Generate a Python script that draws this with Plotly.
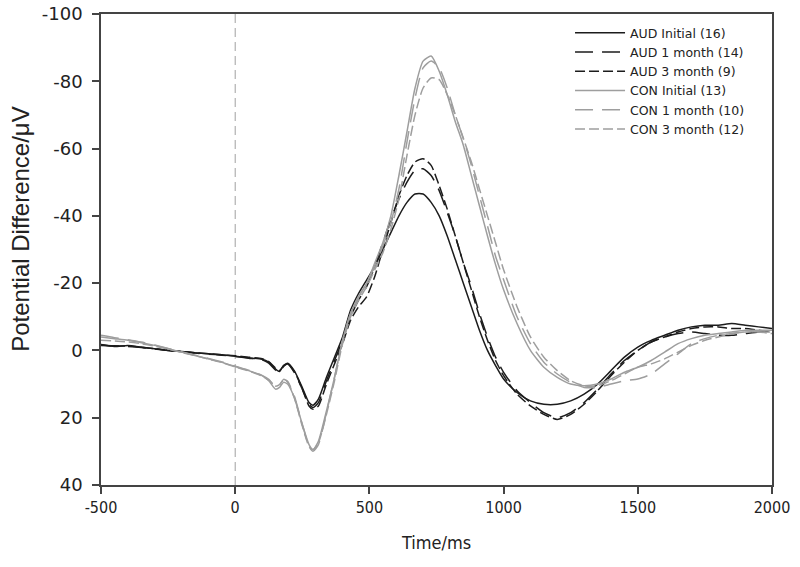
import plotly.graph_objects as go

# time axis (ms)
time_ms = [-500,-450,-400,-350,-300,-250,-200,-150,-100,-50,0,50,100,125,150,165,180,195,220,250,275,290,310,340,370,400,430,460,490,520,550,580,610,640,670,700,730,760,790,820,850,880,910,940,970,1000,1050,1100,1150,1200,1250,1300,1350,1400,1450,1500,1550,1600,1650,1700,1750,1800,1850,1900,1950,2000]

aud_initial = [-1.8,-1.2,-1.5,-1.0,-0.5,0.0,0.3,0.7,1.0,1.3,1.7,2.2,2.6,3.5,5.5,6.3,4.5,3.8,6.0,11.0,15.5,16.3,14.5,8.0,2.0,-4.0,-12.0,-17.0,-21.0,-25.0,-30.0,-35.0,-40.0,-44.0,-46.5,-46.5,-44.0,-40.0,-34.0,-27.0,-20.0,-13.0,-6.0,0.0,4.5,8.5,12.5,15.0,16.0,16.0,15.0,13.0,10.0,6.0,2.0,-1.0,-3.0,-4.5,-6.0,-7.0,-7.5,-7.5,-8.0,-7.5,-7.0,-6.5]
aud_1month = [-1.5,-1.4,-1.2,-0.9,-0.4,0.0,0.4,0.8,1.1,1.4,1.8,2.3,2.8,3.8,5.8,6.5,4.8,4.0,6.5,11.5,16.0,17.0,15.5,9.0,3.0,-3.0,-10.0,-15.0,-19.0,-25.0,-32.0,-39.0,-45.0,-50.0,-53.5,-54.0,-52.0,-47.5,-41.0,-34.0,-26.0,-19.0,-11.0,-4.0,2.0,6.5,12.0,15.5,18.5,20.0,18.5,15.5,11.5,7.0,3.0,0.0,-2.5,-4.0,-5.0,-5.5,-5.0,-4.5,-4.5,-5.0,-5.5,-5.5]
aud_3month = [-1.6,-1.3,-1.3,-0.9,-0.5,0.0,0.3,0.7,1.0,1.3,1.6,2.0,2.5,3.3,5.2,6.0,4.6,3.9,6.2,11.5,16.5,17.5,16.5,10.0,4.0,-2.0,-9.0,-13.0,-16.0,-22.0,-30.0,-38.0,-46.0,-52.0,-56.0,-57.0,-55.0,-49.0,-42.0,-34.0,-26.0,-18.0,-10.0,-3.0,3.0,7.5,13.0,16.5,19.0,20.5,19.0,16.0,12.0,7.5,3.5,0.0,-2.5,-4.0,-5.5,-6.5,-7.0,-7.0,-6.5,-6.5,-6.0,-5.5]
con_initial = [-4.0,-3.5,-3.0,-2.3,-1.5,-0.5,0.5,1.5,2.5,3.5,4.8,6.0,7.5,9.0,11.5,11.0,9.5,10.0,14.0,22.0,28.0,29.5,27.0,18.0,8.0,-3.0,-11.0,-16.0,-20.0,-26.0,-32.0,-40.0,-52.0,-65.0,-78.0,-86.0,-87.5,-83.0,-76.0,-68.0,-61.0,-52.0,-43.0,-34.0,-25.5,-18.0,-8.0,0.0,5.0,8.0,10.0,10.5,10.0,8.5,6.5,5.0,3.0,0.5,-2.0,-3.5,-4.5,-5.0,-5.5,-6.0,-6.0,-6.0]
con_1month = [-4.5,-3.8,-3.2,-2.5,-1.6,-0.6,0.4,1.4,2.4,3.4,4.7,5.9,7.4,8.6,10.8,10.3,8.6,9.2,13.5,22.0,28.5,30.0,28.0,18.5,8.0,-3.0,-11.0,-16.0,-20.0,-25.0,-31.0,-38.0,-48.0,-62.0,-75.0,-84.0,-86.0,-84.0,-78.0,-70.0,-63.0,-55.0,-46.0,-37.0,-28.0,-21.0,-10.0,-2.0,3.5,7.0,9.5,11.0,11.0,10.0,9.0,8.5,7.0,4.0,1.0,-2.0,-3.5,-4.5,-5.0,-5.5,-5.5,-5.5]
con_3month = [-3.0,-2.8,-2.5,-2.0,-1.3,-0.4,0.6,1.5,2.6,3.6,4.9,6.1,7.6,8.8,10.6,10.2,8.8,9.4,14.0,22.5,28.5,29.5,27.5,19.0,9.0,-2.0,-10.0,-15.0,-19.0,-24.0,-29.0,-36.0,-45.0,-58.0,-70.0,-78.0,-81.0,-80.5,-76.0,-70.0,-63.0,-56.0,-48.0,-40.0,-32.0,-24.0,-13.0,-4.0,2.0,6.0,9.0,10.5,10.5,9.0,7.0,5.0,4.0,2.5,0.5,-1.5,-3.0,-4.0,-5.0,-5.5,-5.5,-5.0]

series_names = ["AUD Initial (16)", "AUD 1 month (14)", "AUD 3 month (9)",
                "CON Initial (13)", "CON 1 month (10)", "CON 3 month (12)"]
series_values = [aud_initial, aud_1month, aud_3month, con_initial, con_1month, con_3month]

x_ticks = [-500, 0, 500, 1000, 1500, 2000]
x_ticktext = ["-500", "0", "500", "1000", "1500", "2000"]
y_ticks = [-100, -80, -60, -40, -20, 0, 20, 40]
y_ticktext = ["-100", "-80", "-60", "-40", "-20", "0", "20", "40"]

BLACK = "#1c1c1c"
GRAY = "#9e9e9e"
styles = [(BLACK, "solid"), (BLACK, "18px,9px"), (BLACK, "10px,4px"),
          (GRAY, "solid"), (GRAY, "18px,9px"), (GRAY, "10px,4px")]

fig = go.Figure()
for name, vals, (col, dash) in zip(series_names, series_values, styles):
    fig.add_trace(go.Scatter(
        x=time_ms, y=vals, mode="lines", name=name,
        line=dict(color=col, width=1.5, dash=dash, shape="spline", smoothing=0.6),
    ))

# stimulus onset marker
fig.add_shape(type="line", x0=0, x1=0, y0=0, y1=1, xref="x", yref="paper",
              line=dict(color="#a0a0a0", width=1, dash="9px,5px"), layer="below")

wide = "DejaVu Sans, Verdana, sans-serif"
cond = "DejaVu Sans Condensed, DejaVu Sans, sans-serif"
arial = "Liberation Sans, Arial, sans-serif"
TXT = "#222"

# y-axis title placed as a rotated annotation
fig.add_annotation(text="Potential Difference/μV", textangle=-90, showarrow=False,
                   xref="paper", yref="paper", x=-0.121, y=0.5435,
                   xanchor="center", yanchor="middle",
                   font=dict(family=arial, size=24, color=TXT))

fig.update_layout(
    width=800, height=567,
    margin=dict(l=101, r=28, t=14, b=82),
    paper_bgcolor="white", plot_bgcolor="white",
    showlegend=True,
    legend=dict(x=0.699, y=0.9915, xanchor="left", yanchor="top",
                font=dict(family=wide, size=12.5, color=TXT),
                bgcolor="rgba(0,0,0,0)", tracegroupgap=0, itemwidth=50),
    xaxis=dict(range=[-500, 2000], tickvals=x_ticks, ticktext=x_ticktext, automargin=False,
               showgrid=False, zeroline=False, showline=True, linecolor="#444", linewidth=1.5,
               mirror=True, ticks="outside", ticklen=7, tickcolor="#444", tickwidth=1.5,
               ticklabeloverflow="allow",
               tickfont=dict(family=cond, size=16, color=TXT),
               title=dict(text="Time/ms", font=dict(family=cond, size=18, color=TXT), standoff=20)),
    yaxis=dict(range=[40, -100], tickvals=y_ticks, ticktext=y_ticktext, automargin=False,
               showgrid=False, zeroline=False, showline=True, linecolor="#444", linewidth=1.5,
               mirror=True, ticks="outside", ticklen=7, tickcolor="#444", tickwidth=1.5,
               ticklabelstandoff=6, ticklabeloverflow="allow",
               tickfont=dict(family=wide, size=18, color=TXT)),
)

fig.write_html("out.html", config={"displayModeBar": False},
               post_script="document.body.style.margin='0';")
